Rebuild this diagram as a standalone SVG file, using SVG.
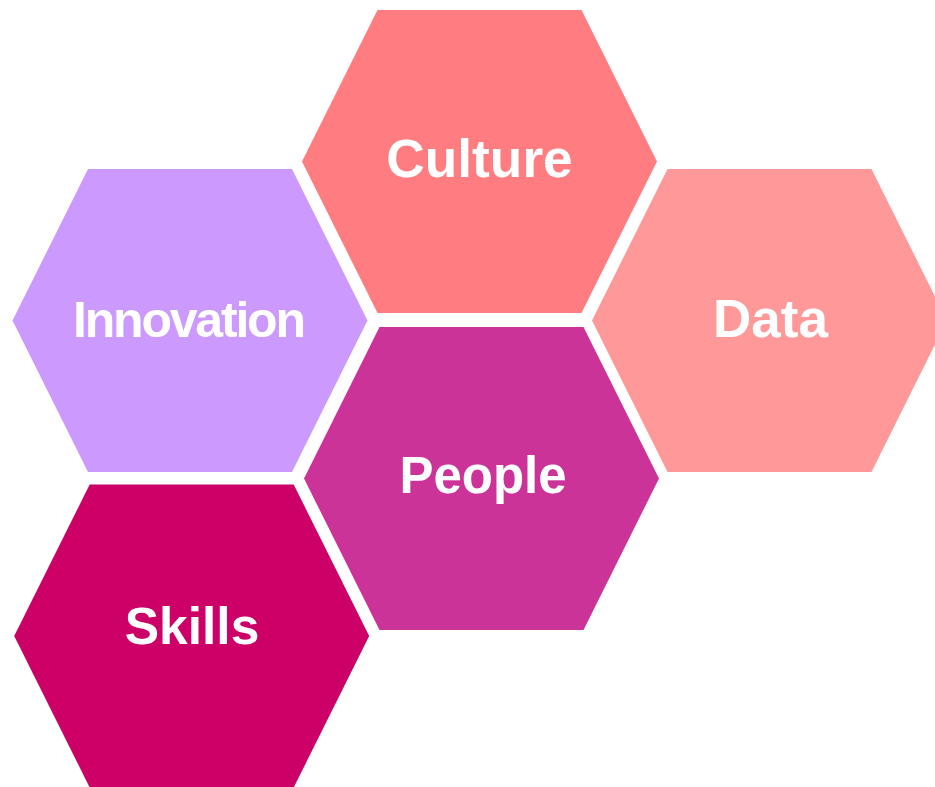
<svg xmlns="http://www.w3.org/2000/svg" width="935" height="787" viewBox="0 0 935 787">
  <style>
    .hex-label { font-family: "Liberation Sans", Arial, sans-serif; font-weight: bold; font-size: 53.3px; fill: #FFFFFF; text-anchor: middle; }
  </style>
  <defs>
    <!-- flat-topped hexagon centred on the origin -->
    <polygon id="hex" points="-102,-151.5 102,-151.5 177.5,0 102,151.5 -102,151.5 -177.5,0"/>
  </defs>
  <rect width="935" height="787" fill="#FFFFFF"/>

  <g id="culture">
    <use href="#hex" x="479.5" y="161.5" fill="#FF7C80"/>
    <text class="hex-label" x="479.5" y="176.7">Culture</text>
  </g>

  <g id="innovation">
    <use href="#hex" x="190" y="320.5" fill="#CC99FF"/>
    <text class="hex-label" x="189.5" y="336.7" style="font-size:50px" textLength="233" lengthAdjust="spacing">Innovation</text>
  </g>

  <g id="data">
    <use href="#hex" x="769.5" y="320.5" fill="#FF9999"/>
    <text class="hex-label" x="770.5" y="336.7" style="font-size:53px">Data</text>
  </g>

  <g id="people">
    <use href="#hex" x="481.5" y="478.5" fill="#CC3399"/>
    <text class="hex-label" x="483" y="493.3" style="font-size:51px">People</text>
  </g>

  <g id="skills">
    <use href="#hex" x="191.7" y="636" fill="#CC0066"/>
    <text class="hex-label" x="192" y="644.3" style="font-size:51.5px">Skills</text>
  </g>

  <g id="connectors"/>
</svg>
